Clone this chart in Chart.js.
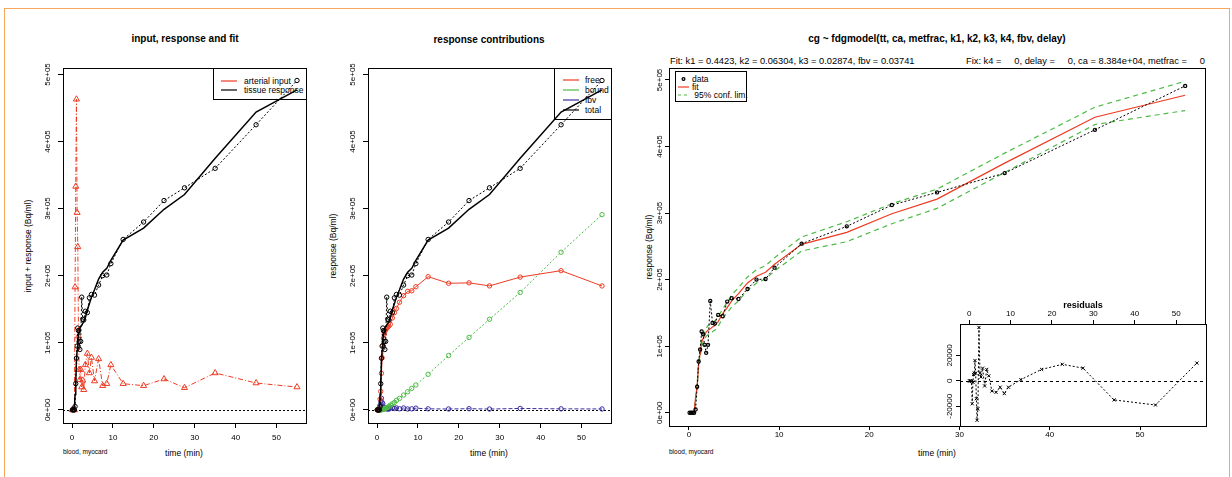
<!DOCTYPE html>
<html lang="en">
<head>
<meta charset="UTF-8">
<title>cg ~ fdgmodel</title>
<script src="https://cdn.jsdelivr.net/npm/chart.js"></script>
<style>
  body { margin: 0; background: #fff; font-family: 'Liberation Sans', Arial, sans-serif; }
  #page { position: relative; width: 1232px; height: 477px; overflow: hidden; }
  .frame { position: absolute; left: 4px; top: 8px; width: 1226px; height: 520px; border: 1.5px solid #f7a65c; box-sizing: border-box; }
  canvas { position: absolute; z-index: 2; }
  .t { position: absolute; white-space: pre; color: #000; line-height: 1; }
  .c { transform: translate(-50%, -50%); }
  .l { transform: translateY(-50%); }
  .v { transform: translate(-50%, -50%) rotate(-90deg); }
  .b { font-weight: bold; }
  .legend { position: absolute; border: 1px solid #000; box-sizing: border-box; z-index: 1; }
  .legend svg { position: absolute; left: 0; top: 0; }
  .legend span { position: absolute; font-size: 8.5px; line-height: 1; white-space: pre; transform: translateY(-50%); }
</style>
</head>
<body>
<div id="page">
  <div class="frame"></div>

  <div class="t c b" style="left:185px;top:39px;font-size:10px">input, response and fit</div>
  <div class="t c b" style="left:489px;top:40px;font-size:10px">response contributions</div>
  <div class="t c b" style="left:937px;top:39px;font-size:10px">cg ~ fdgmodel(tt, ca, metfrac, k1, k2, k3, k4, fbv, delay)</div>
  <div class="t l" style="left:670px;top:62px;font-size:9.3px">Fit: k1 = 0.4423, k2 = 0.06304, k3 = 0.02874, fbv = 0.03741</div>
  <div class="t l" style="right:27px;top:62px;font-size:9.3px">Fix: k4 =     0, delay =     0, ca = 8.384e+04, metfrac =     0</div>

  <div class="t v" style="left:28px;top:246px;font-size:8.5px">input + response (Bq/ml)</div>
  <div class="t v" style="left:333px;top:246px;font-size:8.5px">response (Bq/ml)</div>
  <div class="t v" style="left:649px;top:247px;font-size:8.5px">response (Bq/ml)</div>

  <div class="t c" style="left:184px;top:453px;font-size:8.5px">time (min)</div>
  <div class="t c" style="left:489px;top:453px;font-size:8.5px">time (min)</div>
  <div class="t c" style="left:937px;top:453px;font-size:8.5px">time (min)</div>
  <div class="t l" style="left:63px;top:452px;font-size:6.5px">blood, myocard</div>
  <div class="t l" style="left:669px;top:452px;font-size:6.5px">blood, myocard</div>
  <div class="t c b" style="left:1083px;top:305px;font-size:9px;z-index:3">residuals</div>

  <canvas id="inputChart" width="330" height="477" style="left:0;top:0"></canvas>
  <canvas id="partsChart" width="300" height="477" style="left:330px;top:0"></canvas>
  <canvas id="fitChart" width="602" height="477" style="left:630px;top:0"></canvas>
  <canvas id="residChart" width="312" height="150" style="left:920px;top:290px;z-index:3"></canvas>
</div>

<script>
// frame mid-times (min)
const times = [0.083, 0.25, 0.417, 0.583, 0.75, 0.917, 1.083, 1.25, 1.417, 1.583, 1.75, 1.917,
  2.125, 2.375, 2.625, 2.875, 3.25, 3.75, 4.25, 4.75, 5.5, 6.5, 7.5, 8.5, 9.5,
  12.5, 17.5, 22.5, 27.5, 35, 45, 55];

// arterial input (Bq/ml)
const arterial = [0, 0, 0, 0, 183000, 333000, 463000, 294000, 243000, 110000, 60000, 45000,
  60000, 34000, 44000, 30000, 67000, 84000, 55000, 78000, 43000, 76000, 36000, 39000, 67000,
  39000, 36000, 46000, 33000, 55000, 40000, 34000];

// measured myocardial response (Bq/ml)
const tissue = [0, 0, 0, 0, 5000, 39000, 77000, 95000, 122000, 118000, 102000, 90000,
  102000, 168000, 135000, 134000, 147000, 145000, 167000, 172000, 171000, 186000, 200000, 201000, 218000,
  254000, 280000, 312000, 331000, 360000, 425000, 491000];

// model fit and its 95% limits
const fitted = [0, 0, 0, 500, 23000, 40000, 72000, 89000, 106000, 112000, 116000, 121000,
  124000, 126000, 129000, 131000, 137000, 149000, 158000, 168000, 179000, 195000, 205000, 211000, 223000,
  253000, 271000, 299000, 321000, 375000, 444000, 477000];
const confUpper = [1000, 1000, 1000, 1500, 25000, 43000, 76000, 94000, 112000, 118000, 122000, 127000,
  131000, 133000, 136000, 138000, 144000, 156000, 166000, 177000, 188000, 204000, 215000, 221000, 233000,
  264000, 287000, 314000, 336000, 390000, 459000, 498000];
const confLower = [-1000, -1000, -1000, -500, 21000, 37000, 68000, 84000, 100000, 106000, 110000, 115000,
  117000, 119000, 122000, 124000, 130000, 142000, 150000, 159000, 168000, 184000, 195000, 201000, 213000,
  243000, 257000, 284000, 307000, 361000, 433000, 454000];

// contributions to the fitted response
const freePart = [0, 0, 0, 500, 16000, 27500, 54500, 77600, 96200, 106900, 112300, 117300,
  119300, 121700, 123400, 124900, 127500, 136900, 144900, 151100, 160400, 170200, 176700, 177500, 183500,
  198500, 188700, 189300, 184800, 197900, 207500, 184700];
const boundPart = [0, 0, 0, 0, 0, 0, 200, 400, 700, 1000, 1500, 2000,
  2500, 3000, 4000, 5000, 7000, 9000, 11000, 14000, 17000, 22000, 27000, 32000, 37000,
  53000, 81000, 108000, 135000, 175000, 235000, 291000];
const fbvPart = [0, 0, 0, 0, 6800, 12500, 17300, 11000, 9100, 4100, 2200, 1700,
  2200, 1300, 1600, 1100, 2500, 3100, 2100, 2900, 1600, 2800, 1300, 1500, 2500,
  1500, 1300, 1700, 1200, 2100, 1500, 1300];

// residuals of the fit
const residuals = [0, 0, 0, -500, -18000, -1000, 5000, 6000, 16000, 6000, -14000, -31000,
  -22000, 42000, 6000, 3000, 10000, -4000, 9000, 4000, -8000, -9000, -5000, -10000, -5000,
  1000, 9000, 13000, 10000, -15000, -19000, 14000];

const timeTicks = [0, 10, 20, 30, 40, 50];
const respTicks = [0, 100000, 200000, 300000, 400000, 500000];
const respTickLabels = ['0e+00', '1e+05', '2e+05', '3e+05', '4e+05', '5e+05'];
const residTicks = [-20000, 0, 20000];
const residTickLabels = ['-20000', '0', '20000'];

const RED = '#ee3b22', GREEN = '#4cbb45', BLUE = '#3a2fa0', BLACK = '#000';
const FONT = "'Liberation Sans', Arial, sans-serif";
const tickFont = { family: FONT, size: 8 };

const pts = ys => times.map((t, i) => ({ x: t, y: ys[i] }));

// plot box, optional white background and reference line at zero
const framePlugin = {
  id: 'frame',
  beforeDraw(chart, args, opts) {
    const a = chart.chartArea, ctx = chart.ctx;
    if (opts.fill) {
      ctx.save();
      ctx.fillStyle = opts.fill;
      ctx.fillRect(a.left, a.top, a.right - a.left, a.bottom - a.top);
      ctx.restore();
    }
  },
  beforeDatasetsDraw(chart, args, opts) {
    if (!opts.zeroDash) return;
    const a = chart.chartArea, ctx = chart.ctx;
    const y = Math.round(chart.scales.y.getPixelForValue(0)) + 0.5;
    ctx.save();
    ctx.strokeStyle = BLACK;
    ctx.lineWidth = 1;
    ctx.setLineDash([opts.zeroDash, opts.zeroDash]);
    ctx.beginPath();
    ctx.moveTo(a.left, y);
    ctx.lineTo(a.right, y);
    ctx.stroke();
    ctx.restore();
  },
  afterDraw(chart) {
    const a = chart.chartArea, ctx = chart.ctx;
    ctx.save();
    ctx.strokeStyle = BLACK;
    ctx.lineWidth = 1;
    ctx.strokeRect(Math.round(a.left) + 0.5, Math.round(a.top) + 0.5,
      Math.round(a.right - a.left), Math.round(a.bottom - a.top));
    ctx.restore();
  }
};

function scales(o) {
  return {
    x: {
      type: 'linear', position: o.xPos || 'bottom', min: -2.2, max: 57.2, bounds: 'data',
      afterBuildTicks: s => { s.ticks = timeTicks.map(v => ({ value: v })); },
      afterFit: s => { s.height = o.xH; },
      grid: { drawOnChartArea: false, tickLength: o.xTick, color: BLACK, lineWidth: 1 },
      border: { display: false },
      ticks: { font: tickFont, color: BLACK, padding: o.xPad, maxRotation: 0, autoSkip: false }
    },
    y: {
      type: 'linear', min: o.yMin, max: o.yMax, bounds: 'data',
      afterBuildTicks: s => { s.ticks = o.yTicks.map(v => ({ value: v })); },
      afterFit: s => { s.width = o.yW; },
      grid: { drawOnChartArea: false, tickLength: o.yTick, color: BLACK, lineWidth: 1 },
      border: { display: false },
      ticks: {
        font: tickFont, color: BLACK, padding: o.yPad, minRotation: 90, maxRotation: 90,
        crossAlign: 'center', autoSkip: false, callback: (v, i) => o.yLabels[i]
      }
    }
  };
}

function plot(id, o, datasets) {
  return new Chart(document.getElementById(id), {
    type: 'line',
    data: { datasets },
    options: {
      responsive: false, animation: false, devicePixelRatio: 1,
      layout: { padding: o.pad },
      scales: scales(o),
      plugins: { legend: { display: false }, tooltip: { enabled: false }, frame: o.frame || {} }
    },
    plugins: [framePlugin]
  });
}

function series(ys, color, extra) {
  return Object.assign({
    data: pts(ys), borderColor: color, borderWidth: 1, tension: 0, fill: false,
    pointRadius: 0, pointBorderColor: color, pointBackgroundColor: 'rgba(0,0,0,0)', pointBorderWidth: 1
  }, extra);
}

const mainAxes = {
  yMin: -19600, yMax: 509600, yTicks: respTicks, yLabels: respTickLabels,
  yW: 30, yTick: 5, yPad: -1.5, xH: 30, xTick: 5, xPad: 5
};

// left: arterial input with measured and fitted response
plot('inputChart', Object.assign({}, mainAxes, {
  pad: { left: 33, top: 68, right: 24, bottom: 24 }, frame: { zeroDash: 2 }
}), [
  series(fitted, BLACK, { borderWidth: 1.5 }),
  series(tissue, BLACK, { borderDash: [2, 2], pointRadius: 2.2 }),
  series(arterial, RED, { borderDash: [5, 2, 1, 2], pointStyle: 'triangle', pointRadius: 3.5 })
]);

// middle: free, bound and blood-volume parts of the response
plot('partsChart', Object.assign({}, mainAxes, {
  pad: { left: 8, top: 68, right: 19, bottom: 24 }, frame: { zeroDash: 2 }
}), [
  series(fitted, BLACK, { borderWidth: 1.5 }),
  series(tissue, BLACK, { borderDash: [2, 2], pointRadius: 2.2 }),
  series(freePart, RED, { pointRadius: 2.2 }),
  series(boundPart, GREEN, { borderDash: [2, 2], pointRadius: 2.2 }),
  series(fbvPart, BLUE, { borderDash: [4, 2], pointRadius: 2.2 })
]);

// right: data, fit and confidence limits
plot('fitChart', {
  yMin: -19900, yMax: 517900, yTicks: respTicks, yLabels: respTickLabels,
  yW: 30, yTick: 4, yPad: -6.2, xH: 30, xTick: 4, xPad: 0,
  pad: { left: 9, top: 68, right: 27, bottom: 21 }
}, [
  series(tissue, BLACK, { borderDash: [2, 2], pointRadius: 1.6, pointBorderWidth: 1.2 }),
  series(fitted, RED, { borderWidth: 1.2 }),
  series(confUpper, GREEN, { borderWidth: 1.2, borderDash: [5, 4] }),
  series(confLower, GREEN, { borderWidth: 1.2, borderDash: [5, 4] })
]);

// inset: residuals against time
plot('residChart', {
  yMin: -35500, yMax: 44700, yTicks: residTicks, yLabels: residTickLabels,
  yW: 30, yTick: 4, yPad: -6.5, xH: 20, xTick: 4, xPad: 1, xPos: 'top',
  pad: { left: 10, top: 14, right: 26, bottom: 14 }, frame: { zeroDash: 3, fill: '#fff' }
}, [
  series(residuals, BLACK, { borderDash: [2, 2], pointStyle: 'crossRot', pointRadius: 2.2 })
]);

// legends drawn as boxes behind the plot canvases
function legend(box, items) {
  const el = document.createElement('div');
  el.className = 'legend';
  el.style.cssText = `left:${box.x}px;top:${box.y}px;width:${box.w}px;height:${box.h}px`;
  const ns = 'http://www.w3.org/2000/svg';
  const svg = document.createElementNS(ns, 'svg');
  svg.setAttribute('width', box.w);
  svg.setAttribute('height', box.h);
  items.forEach(it => {
    const y = it.y - box.y;
    if (it.marker) {
      const c = document.createElementNS(ns, 'circle');
      c.setAttribute('cx', (box.lx0 + box.lx1) / 2 - box.x);
      c.setAttribute('cy', y);
      c.setAttribute('r', 1.4);
      c.setAttribute('fill', 'none');
      c.setAttribute('stroke', it.color);
      c.setAttribute('stroke-width', 1.3);
      svg.appendChild(c);
    } else {
      const ln = document.createElementNS(ns, 'line');
      ln.setAttribute('x1', box.lx0 - box.x);
      ln.setAttribute('x2', box.lx1 - box.x);
      ln.setAttribute('y1', y);
      ln.setAttribute('y2', y);
      ln.setAttribute('stroke', it.color);
      ln.setAttribute('stroke-width', 1.2);
      if (it.dash) ln.setAttribute('stroke-dasharray', it.dash);
      svg.appendChild(ln);
    }
    const s = document.createElement('span');
    s.textContent = it.label;
    s.style.left = (box.tx - box.x) + 'px';
    s.style.top = y + 'px';
    el.appendChild(s);
  });
  el.appendChild(svg);
  document.getElementById('page').appendChild(el);
}

legend({ x: 213, y: 68, w: 94, h: 32, lx0: 220, lx1: 236, tx: 243 }, [
  { label: 'arterial input', color: RED, y: 80 },
  { label: 'tissue response', color: BLACK, y: 89 }
]);
legend({ x: 554, y: 68, w: 58, h: 52, lx0: 562, lx1: 578, tx: 584 }, [
  { label: 'free', color: RED, y: 79 },
  { label: 'bound', color: GREEN, y: 89 },
  { label: 'fbv', color: BLUE, y: 99 },
  { label: 'total', color: BLACK, y: 109 }
]);
legend({ x: 675, y: 71, w: 72, h: 31, lx0: 677, lx1: 688, tx: 691 }, [
  { label: 'data', color: BLACK, y: 78, marker: true },
  { label: 'fit', color: RED, y: 86 },
  { label: ' 95% conf. lim.', color: GREEN, y: 94, dash: '3 3' }
]);
</script>
</body>
</html>
